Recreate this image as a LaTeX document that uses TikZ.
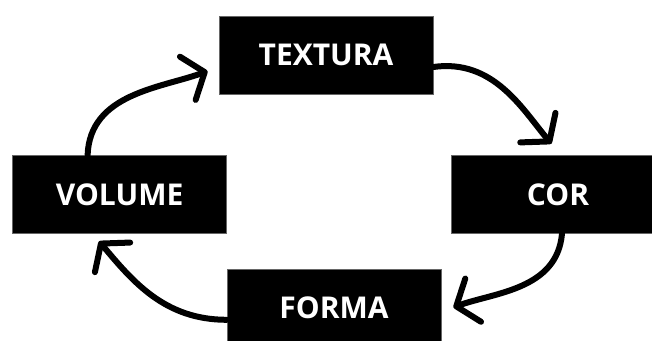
\documentclass[tikz,border=0pt]{standalone}
\usepackage{fontspec}
\setsansfont{Open Sans}
\usepackage{xcolor}
\usepackage{tikz}
\usetikzlibrary{arrows.meta,positioning}
\definecolor{cBox}{HTML}{000000}
\definecolor{cText}{HTML}{FFFFFF}
\tikzset{
  blk/.style = {rectangle, fill=cBox, draw=cBox!60, line width=0.4pt,
                minimum width=214pt, minimum height=78pt, inner sep=0pt,
                text=cText, font=\sffamily\bfseries\fontsize{30}{30}\selectfont},
  cyc/.style = {-{Straight Barb[length=18pt, width=46pt, round]}, draw=cBox,
                line width=6pt, line cap=round},
}
\begin{document}
\begin{tikzpicture}[x=1pt, y=-1pt]
  \useasboundingbox (0,0) rectangle (652,340);
  \clip (0,0) rectangle (652,340);

  \node[blk] (textura) at (326,55) {TEXTURA};
  \node[blk, below left=61pt and -8pt of textura] (volume) {VOLUME};
  \node[blk, right=224pt of volume] (cor) {COR};
  \node[blk, below right=35pt and 0pt of volume] (forma) {FORMA};

  \draw[cyc, shorten >=15pt] ([yshift=-12pt]textura.east) to[out=8, in=130] ([xshift=3pt]cor.north);
  \draw[cyc, shorten >=13pt] ([xshift=4pt]cor.south) to[out=-95, in=20] ([yshift=-4pt]forma.east);
  \draw[cyc, shorten >=10pt] ([yshift=-12pt]forma.west) to[out=180, in=-50] ([xshift=-27pt]volume.south);
  \draw[cyc, shorten >=12pt] ([xshift=-32pt]volume.north) to[out=88, in=200] ([yshift=-12pt]textura.west);
\end{tikzpicture}
\end{document}
